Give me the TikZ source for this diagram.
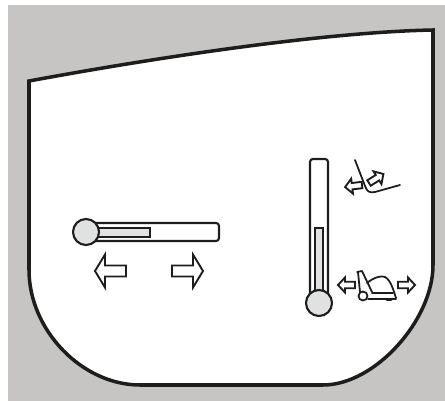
\documentclass[tikz,border=0pt]{standalone}
\usepackage{xcolor}
\definecolor{panel-gray}{RGB}{198,197,195}
\definecolor{ink}{RGB}{29,29,27}
\definecolor{knob-gray}{RGB}{224,226,225}
\tikzset{
    outline/.style={draw=ink, line width=3pt, line join=miter, fill=white},
    slider/.style={draw=ink, line width=1.8pt, fill=white},
    knob/.style={draw=ink, line width=1.8pt, fill=knob-gray},
    icon/.style={draw=ink, line width=1.5pt, line join=round, line cap=round},
    bigarrow/.pic={\draw[draw=ink, line width=1.6pt, line join=miter, fill=white]
        (0,-5.5) -- (21,-5.5) -- (21,-16.5) -- (31,0) -- (21,16.5) -- (21,5.5) -- (0,5.5) -- cycle;},
    smallarrow/.pic={\draw[draw=ink, line width=1.6pt, line join=miter, fill=white]
        (0,-3.2) -- (10,-3.2) -- (10,-7.5) -- (17,0) -- (10,7.5) -- (10,3.2) -- (0,3.2) -- cycle;}
}
\begin{document}
\begin{tikzpicture}[x=0.03cm, y=-0.03cm]
    \useasboundingbox (0,0) rectangle (445,401);
    % Backing panel
    \fill[panel-gray] (8,5) rectangle (445,401);

    % Cab outline
    \draw[outline] (29,81) .. controls (170,55) and (330,32) .. (433,30)
        -- (433,265) .. controls (433,320) and (375,385) .. (323,385)
        -- (140,385) .. controls (82,385) and (29,330) .. (29,270) -- cycle;

    % Horizontal slider
    \draw[slider, rounded corners=2.5pt] (86,223) rectangle (219,241);
    \draw[knob, line width=1.4pt] (90,228) rectangle (150,237);
    \draw[knob] (86,232) circle (13);
    \path (126,271) pic[rotate=180] {bigarrow};
    \path (172,271) pic {bigarrow};

    % Vertical slider
    \draw[slider, rounded corners=2.5pt] (310,303) -- (310,159) -- (328,159) -- (328,303);
    \draw[knob, line width=1.4pt] (315,303) rectangle (323,228);
    \draw[knob] (319,303) circle (13);

    % Pedal symbol
    \draw[icon] (355,160) -- (365,186) .. controls (367,192) and (370,193) .. (375,192) -- (400,185);
    \path (362,185) pic[rotate=187] {smallarrow};
    \path (369,183) pic[rotate=32] {smallarrow};

    % Mower symbol
    \path (355,285) pic[rotate=180] {smallarrow};
    \path (398,285) pic {smallarrow};
    \draw[icon] (357,272) -- (362,271) -- (372,292);
    \draw[icon] (358,272) -- (360,292);
    \draw[icon] (367,283) .. controls (373,278) and (381,275) .. (385,277) .. controls (391,280) and (394,292) .. (396,298);
    \draw[icon] (372,293) -- (393,293);
    \draw[icon] (368,299) -- (396,299);
    \draw[icon, line width=2pt] (387,300) -- (391,300);
    \draw[icon, fill=white] (363,296) circle (4.5);
\end{tikzpicture}
\end{document}
